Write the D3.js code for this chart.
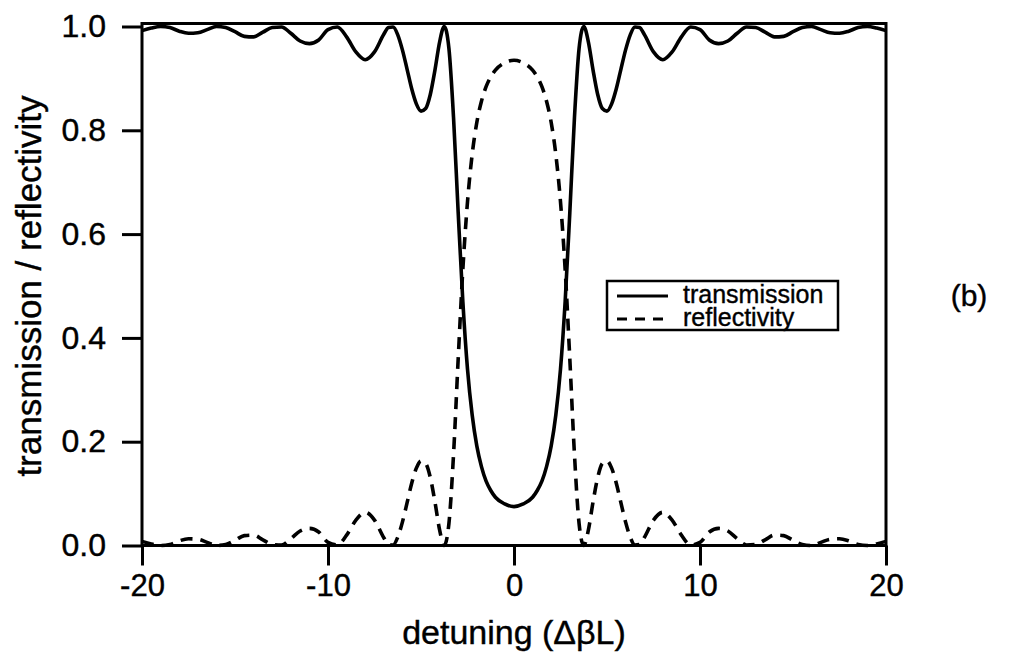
<!DOCTYPE html>
<html>
<head>
<meta charset="utf-8">
<script src="https://cdn.jsdelivr.net/npm/d3@7"></script>
<style>
  body { margin: 0; background: #fff; }
  text { font-family: "Liberation Sans", Arial, Helvetica, sans-serif; fill: #000; stroke: #000; stroke-width: 0.4px; }
</style>
</head>
<body>
<div id="chart"></div>
<script>
// detuning values (x)
var detuning = [-20,-19.5,-19,-18.5,-18,-17.5,-17,-16.5,-16,-15.5,-15,-14.5,-14,-13.5,-13,-12.5,-12,-11.5,-11,-10.5,-10,-9.5,-9,-8.5,-8,-7.5,-7,-6.75,-6.5,-6.25,-6,-5.75,-5.5,-5.25,-5,-4.75,-4.5,-4.25,-4,-3.75,-3.5,-3.25,-3,-2.75,-2.5,-2.25,-2,-1.75,-1.5,-1.25,-1,-0.5,
  0,
  0.5,1,1.25,1.5,1.75,2,2.25,2.5,2.75,3,3.25,3.5,3.75,4,4.25,4.5,4.75,5,5.25,5.5,5.75,6,6.25,6.5,6.75,7,7.5,8,8.5,9,9.5,10,10.5,11,11.5,12,12.5,13,13.5,14,14.5,15,15.5,16,16.5,17,17.5,18,18.5,19,19.5,20]

var transmission = [0.992,0.997,1.000,0.998,0.991,0.987,0.988,0.994,1.000,0.998,0.990,0.981,0.980,0.989,0.998,0.999,0.987,0.972,0.967,0.974,0.994,0.999,0.980,0.951,0.936,0.951,0.985,0.998,0.999,0.984,0.955,0.918,0.880,0.851,0.837,0.842,0.869,0.916,0.970,1.000,0.958,0.824,0.641,0.470,0.340,0.252,0.192,0.152,0.124,0.106,0.093,0.080,
  0.075,
  0.080,0.093,0.106,0.124,0.152,0.192,0.252,0.340,0.470,0.641,0.824,0.958,1.000,0.970,0.916,0.869,0.842,0.837,0.851,0.880,0.918,0.955,0.984,0.999,0.998,0.985,0.951,0.936,0.951,0.980,0.999,0.994,0.974,0.967,0.972,0.987,0.999,0.998,0.989,0.980,0.981,0.990,0.998,1.000,0.994,0.988,0.987,0.991,0.998,1.000,0.997,0.992]

var reflectivity = [0.008,0.003,0.000,0.002,0.009,0.013,0.012,0.006,0.000,0.002,0.010,0.019,0.020,0.011,0.002,0.001,0.013,0.028,0.033,0.026,0.006,0.001,0.020,0.049,0.064,0.049,0.015,0.002,0.001,0.016,0.045,0.082,0.120,0.149,0.163,0.158,0.131,0.084,0.030,0.000,0.042,0.176,0.360,0.532,0.662,0.753,0.815,0.856,0.884,0.903,0.916,0.930,
  0.935,
  0.930,0.916,0.903,0.884,0.856,0.815,0.753,0.662,0.532,0.360,0.176,0.042,0.000,0.030,0.084,0.131,0.158,0.163,0.149,0.120,0.082,0.045,0.016,0.001,0.002,0.015,0.049,0.064,0.049,0.020,0.001,0.006,0.026,0.033,0.028,0.013,0.001,0.002,0.011,0.020,0.019,0.010,0.002,0.000,0.006,0.012,0.013,0.009,0.002,0.000,0.003,0.008]

var xTicks = [-20, -10, 0, 10, 20]
var yTicks = [0, 0.2, 0.4, 0.6, 0.8, 1.0]
var seriesNames = ["transmission", "reflectivity"]

var chartWidth = 1011, chartHeight = 665
var plotLeft = 142, plotRight = 886, plotTop = 26.5, plotBottom = 545.5

var svg = d3.select("#chart").append("svg")
  .attr("width", chartWidth)
  .attr("height", chartHeight)

var x = d3.scaleLinear().domain([-20, 20]).range([plotLeft, plotRight])
var y = d3.scaleLinear().domain([0, 1]).range([plotBottom, plotTop])

// x axis (ticks below the frame), plain hyphen for negatives like the original
var xAxis = svg.append("g")
  .attr("transform", "translate(0," + plotBottom + ")")
  .call(d3.axisBottom(x).tickValues(xTicks).tickFormat(function(d) { return String(d) })
    .tickSize(20).tickSizeOuter(0).tickPadding(8))
xAxis.select(".domain").remove()
xAxis.selectAll(".tick line").attr("stroke", "#000").attr("stroke-width", 3)
xAxis.selectAll(".tick text").attr("font-size", "31px").attr("font-family", null)

// y axis (ticks left of the frame)
var yAxis = svg.append("g")
  .attr("transform", "translate(" + plotLeft + ",0)")
  .call(d3.axisLeft(y).tickValues(yTicks).tickFormat(d3.format(".1f")).tickSize(20).tickSizeOuter(0).tickPadding(16))
yAxis.select(".domain").remove()
yAxis.selectAll(".tick line").attr("stroke", "#000").attr("stroke-width", 3)
yAxis.selectAll(".tick text").attr("font-size", "32px").attr("font-family", null)

// frame
svg.append("rect")
  .attr("x", plotLeft)
  .attr("y", plotTop - 3)
  .attr("width", plotRight - plotLeft)
  .attr("height", plotBottom - plotTop + 3)
  .attr("fill", "none")
  .attr("stroke", "#000")
  .attr("stroke-width", 3)

// curves
var line = d3.line()
  .x(function(d) { return x(d[0]) })
  .y(function(d) { return y(d[1]) })
  .curve(d3.curveMonotoneX)

svg.append("path")
  .datum(d3.zip(detuning, transmission))
  .attr("d", line)
  .attr("fill", "none")
  .attr("stroke", "#000")
  .attr("stroke-width", 3.6)

svg.append("path")
  .datum(d3.zip(detuning, reflectivity))
  .attr("d", line)
  .attr("fill", "none")
  .attr("stroke", "#000")
  .attr("stroke-width", 3.6)
  .attr("stroke-dasharray", "12,8")

// axis titles
svg.append("text")
  .attr("x", (plotLeft + plotRight) / 2)
  .attr("y", 644)
  .attr("text-anchor", "middle")
  .attr("font-size", "34px")
  .text("detuning (\u0394\u03b2L)")

svg.append("text")
  .attr("transform", "translate(41," + ((plotTop + plotBottom) / 2) + ") rotate(-90)")
  .attr("text-anchor", "middle")
  .attr("font-size", "35px")
  .text("transmission / reflectivity")

// legend
var legend = svg.append("g").attr("transform", "translate(607,281)")
legend.append("rect")
  .attr("width", 231)
  .attr("height", 49)
  .attr("fill", "#fff")
  .attr("stroke", "#000")
  .attr("stroke-width", 2.5)

legend.selectAll("line.key")
  .data(seriesNames)
  .enter()
  .append("line")
    .attr("class", "key")
    .attr("x1", 10)
    .attr("x2", function(d, i) { return i == 0 ? 61 : 58 })
    .attr("y1", function(d, i) { return 15 + i * 23 })
    .attr("y2", function(d, i) { return 15 + i * 23 })
    .attr("stroke", "#000")
    .attr("stroke-width", 3)
    .attr("stroke-dasharray", function(d, i) { return i == 0 ? null : "10,8" })

legend.selectAll("text.key")
  .data(seriesNames)
  .enter()
  .append("text")
    .attr("class", "key")
    .attr("x", 76)
    .attr("y", function(d, i) { return 22 + i * 23 })
    .attr("font-size", "25px")
    .text(function(d) { return d })

// panel label
svg.append("text")
  .attr("x", 969)
  .attr("y", 306)
  .attr("text-anchor", "middle")
  .attr("font-size", "30px")
  .text("(b)")
</script>
</body>
</html>
